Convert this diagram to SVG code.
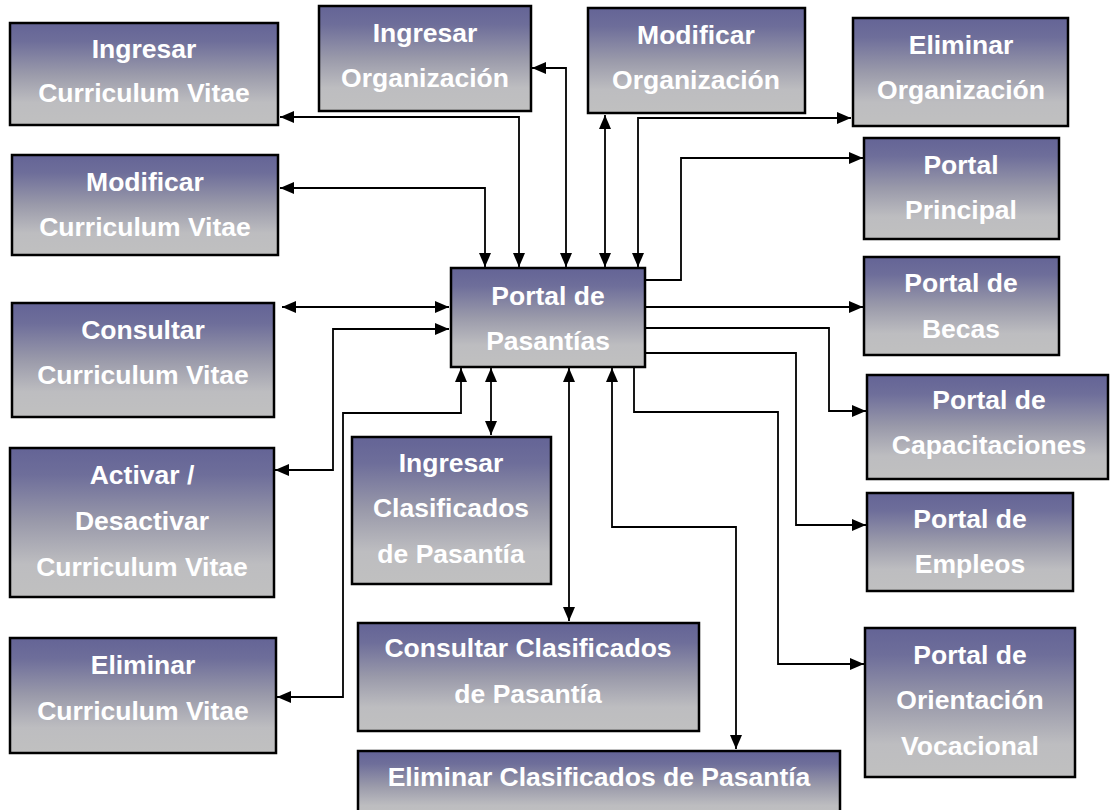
<svg xmlns="http://www.w3.org/2000/svg" width="1110" height="810" viewBox="0 0 1110 810">
  <defs>
    <linearGradient id="boxFill" x1="0" y1="0" x2="0" y2="1">
      <stop offset="0" stop-color="#646496"/>
      <stop offset="0.18" stop-color="#6e6e9a"/>
      <stop offset="0.5" stop-color="#9a9aaa"/>
      <stop offset="0.78" stop-color="#bdbdc0"/>
      <stop offset="1" stop-color="#c0c0c0"/>
    </linearGradient>
    <marker id="arrow" viewBox="0 0 14 12" markerUnits="userSpaceOnUse" markerWidth="14" markerHeight="12" refX="14" refY="6" orient="auto-start-reverse">
      <path d="M0,0 L14,6 L0,12 z" fill="#000"/>
    </marker>
  </defs>
  <style>
    .box { fill: url(#boxFill); stroke: #000; stroke-width: 2.5; }
    .lbl { font-family: "Liberation Sans", Arial, sans-serif; font-weight: bold; font-size: 26.5px; fill: #ffffff; text-anchor: middle; }
    .link { fill: none; stroke: #000; stroke-width: 1.8; }
    .both { marker-start: url(#arrow); marker-end: url(#arrow); }
    .one { marker-end: url(#arrow); }
  </style>

  <rect width="1110" height="810" fill="#ffffff"/>

  <!-- connectors -->
  <g id="connectors">
    <path class="link both" d="M280,117 H519 V267"/>
    <path class="link both" d="M280,188 H485 V267"/>
    <path class="link both" d="M532,68 H566 V267"/>
    <path class="link both" d="M605,115 V267"/>
    <path class="link both" d="M638,267 V118 H851"/>
    <path class="link one" d="M645,280 H681 V158 H863"/>
    <path class="link one" d="M645,307 H863"/>
    <path class="link one" d="M645,328 H829 V411 H866"/>
    <path class="link one" d="M645,353 H796 V525 H866"/>
    <path class="link one" d="M634,362 V412 H778 V664 H864"/>
    <path class="link both" d="M612,368 V527 H736 V749"/>
    <path class="link both" d="M569,368 V621"/>
    <path class="link both" d="M491,368 V435"/>
    <path class="link both" d="M461,368 V413 H343 V697 H277"/>
    <path class="link both" d="M449,329 H333 V470 H275"/>
    <path class="link both" d="M282,307 H449"/>
  </g>

  <!-- left column -->
  <g id="ingresar-cv">
    <rect class="box" x="10" y="23" width="268" height="102"/>
    <text class="lbl" x="144" y="58">Ingresar</text>
    <text class="lbl" x="144" y="102">Curriculum Vitae</text>
  </g>
  <g id="modificar-cv">
    <rect class="box" x="12" y="155" width="266" height="100"/>
    <text class="lbl" x="145" y="191">Modificar</text>
    <text class="lbl" x="145" y="236">Curriculum Vitae</text>
  </g>
  <g id="consultar-cv">
    <rect class="box" x="12" y="303" width="262" height="114"/>
    <text class="lbl" x="143" y="339">Consultar</text>
    <text class="lbl" x="143" y="384">Curriculum Vitae</text>
  </g>
  <g id="activar-cv">
    <rect class="box" x="10" y="448" width="264" height="149"/>
    <text class="lbl" x="142" y="484">Activar /</text>
    <text class="lbl" x="142" y="530">Desactivar</text>
    <text class="lbl" x="142" y="576">Curriculum Vitae</text>
  </g>
  <g id="eliminar-cv">
    <rect class="box" x="10" y="638" width="266" height="115"/>
    <text class="lbl" x="143" y="674">Eliminar</text>
    <text class="lbl" x="143" y="720">Curriculum Vitae</text>
  </g>

  <!-- top row -->
  <g id="ingresar-org">
    <rect class="box" x="319" y="6" width="212" height="105"/>
    <text class="lbl" x="425" y="42">Ingresar</text>
    <text class="lbl" x="425" y="87">Organización</text>
  </g>
  <g id="modificar-org">
    <rect class="box" x="588" y="8" width="217" height="105"/>
    <text class="lbl" x="696" y="44">Modificar</text>
    <text class="lbl" x="696" y="89">Organización</text>
  </g>
  <g id="eliminar-org">
    <rect class="box" x="853" y="18" width="215" height="108"/>
    <text class="lbl" x="961" y="54">Eliminar</text>
    <text class="lbl" x="961" y="99">Organización</text>
  </g>

  <!-- right column -->
  <g id="portal-principal">
    <rect class="box" x="864" y="138" width="195" height="101"/>
    <text class="lbl" x="961" y="174">Portal</text>
    <text class="lbl" x="961" y="219">Principal</text>
  </g>
  <g id="portal-becas">
    <rect class="box" x="864" y="257" width="195" height="98"/>
    <text class="lbl" x="961" y="292">Portal de</text>
    <text class="lbl" x="961" y="338">Becas</text>
  </g>
  <g id="portal-capacitaciones">
    <rect class="box" x="867" y="375" width="241" height="104"/>
    <text class="lbl" x="989" y="409">Portal de</text>
    <text class="lbl" x="989" y="454">Capacitaciones</text>
  </g>
  <g id="portal-empleos">
    <rect class="box" x="867" y="493" width="206" height="98"/>
    <text class="lbl" x="970" y="528">Portal de</text>
    <text class="lbl" x="970" y="573">Empleos</text>
  </g>
  <g id="portal-orientacion">
    <rect class="box" x="865" y="628" width="210" height="149"/>
    <text class="lbl" x="970" y="664">Portal de</text>
    <text class="lbl" x="970" y="709">Orientación</text>
    <text class="lbl" x="970" y="755">Vocacional</text>
  </g>

  <!-- centre -->
  <g id="portal-pasantias">
    <rect class="box" x="451" y="268" width="194" height="99"/>
    <text class="lbl" x="548" y="305">Portal de</text>
    <text class="lbl" x="548" y="350">Pasantías</text>
  </g>
  <g id="ingresar-clasificados">
    <rect class="box" x="352" y="437" width="199" height="147"/>
    <text class="lbl" x="451" y="472">Ingresar</text>
    <text class="lbl" x="451" y="517">Clasificados</text>
    <text class="lbl" x="451" y="563">de Pasantía</text>
  </g>
  <g id="consultar-clasificados">
    <rect class="box" x="358" y="623" width="341" height="108"/>
    <text class="lbl" x="528" y="657">Consultar Clasificados</text>
    <text class="lbl" x="528" y="703">de Pasantía</text>
  </g>
  <g id="eliminar-clasificados">
    <rect class="box" x="358" y="751" width="482" height="70"/>
    <text class="lbl" x="599" y="786">Eliminar Clasificados de Pasantía</text>
  </g>
</svg>
